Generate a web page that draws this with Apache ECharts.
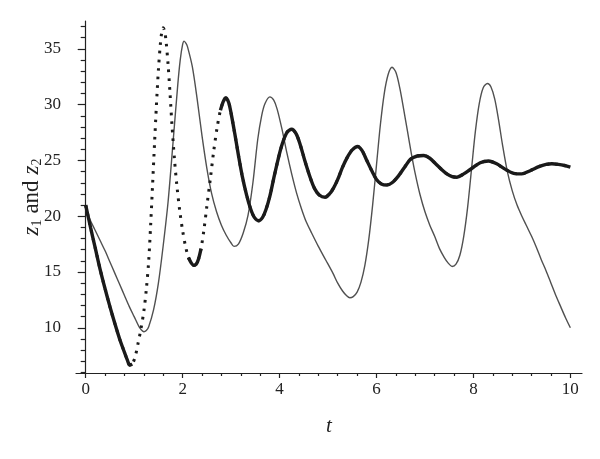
<!DOCTYPE html>
<html><head><meta charset="utf-8">
<script src="https://cdn.jsdelivr.net/npm/echarts@6/dist/echarts.min.js"></script>
<style>html,body{margin:0;padding:0;background:#fff}#c{width:600px;height:459px}</style>
</head><body><div id="c"></div>
<script>
// thick curve z1 (time, value)
const z1T = [0, 0.1, 0.2, 0.3, 0.4, 0.5, 0.6, 0.7, 0.8, 0.86, 0.91, 0.96, 1.02, 1.08, 1.14, 1.2, 1.25, 1.30, 1.34, 1.38, 1.42, 1.46, 1.50, 1.54, 1.57, 1.60, 1.63, 1.66, 1.70, 1.74, 1.78, 1.83, 1.88, 1.94, 2.00, 2.06, 2.12, 2.18, 2.23, 2.28, 2.33, 2.38, 2.44, 2.50, 2.57, 2.64, 2.71, 2.78, 2.84, 2.89, 2.95, 3.01, 3.08, 3.15, 3.23, 3.32, 3.40, 3.48, 3.57, 3.65, 3.72, 3.80, 3.88, 3.97, 4.05, 4.15, 4.25, 4.34, 4.42, 4.52, 4.63, 4.72, 4.82, 4.94, 5.03, 5.11, 5.20, 5.30, 5.40, 5.50, 5.61, 5.70, 5.80, 5.90, 6.00, 6.10, 6.21, 6.32, 6.45, 6.58, 6.70, 6.84, 6.97, 7.10, 7.22, 7.34, 7.45, 7.56, 7.66, 7.80, 7.97, 8.14, 8.31, 8.48, 8.66, 8.83, 9.00, 9.18, 9.35, 9.50, 9.62, 9.75, 9.88, 10.0];
const z1V = [21.0, 19.0, 17.1, 15.2, 13.5, 11.9, 10.4, 9.0, 7.8, 7.1, 6.65, 6.75, 7.4, 8.6, 9.9, 11.5, 13.4, 16.0, 19.2, 22.8, 26.5, 30.0, 33.1, 35.4, 36.5, 36.9, 36.6, 35.6, 33.6, 31.0, 28.2, 25.2, 22.8, 20.5, 18.7, 17.3, 16.3, 15.8, 15.6, 15.7, 16.2, 17.1, 18.8, 20.9, 23.3, 25.8, 27.9, 29.5, 30.3, 30.6, 30.2, 29.0, 27.3, 25.5, 23.6, 21.9, 20.7, 19.9, 19.6, 19.9, 20.6, 21.8, 23.4, 25.1, 26.4, 27.5, 27.8, 27.4, 26.5, 25.0, 23.5, 22.5, 21.9, 21.7, 22.0, 22.5, 23.3, 24.4, 25.3, 25.95, 26.25, 25.9, 25.0, 24.1, 23.3, 22.9, 22.8, 23.0, 23.6, 24.4, 25.1, 25.4, 25.45, 25.2, 24.7, 24.2, 23.8, 23.55, 23.5, 23.8, 24.3, 24.8, 24.95, 24.7, 24.2, 23.85, 23.8, 24.1, 24.45, 24.65, 24.7, 24.65, 24.55, 24.4];
// thin curve z2
const z2T = [0, 0.1, 0.2, 0.3, 0.4, 0.5, 0.6, 0.7, 0.8, 0.9, 1.0, 1.1, 1.15, 1.2, 1.25, 1.3, 1.4, 1.5, 1.6, 1.7, 1.8, 1.9, 1.95, 2.0, 2.03, 2.07, 2.1, 2.2, 2.3, 2.4, 2.5, 2.6, 2.7, 2.8, 2.9, 3.0, 3.06, 3.15, 3.25, 3.35, 3.45, 3.55, 3.63, 3.70, 3.80, 3.88, 3.95, 4.05, 4.15, 4.25, 4.35, 4.45, 4.55, 4.65, 4.8, 4.95, 5.1, 5.2, 5.3, 5.38, 5.45, 5.52, 5.6, 5.68, 5.76, 5.84, 5.92, 6.0, 6.08, 6.16, 6.24, 6.32, 6.4, 6.48, 6.56, 6.64, 6.72, 6.8, 6.9, 7.0, 7.1, 7.2, 7.3, 7.4, 7.48, 7.56, 7.64, 7.72, 7.8, 7.88, 7.96, 8.04, 8.12, 8.2, 8.29, 8.36, 8.44, 8.52, 8.6, 8.7, 8.8, 8.9, 9.0, 9.1, 9.2, 9.3, 9.4, 9.5, 9.6, 9.7, 9.8, 9.9, 10.0];
const z2V = [20.6, 19.6, 18.7, 17.8, 16.9, 15.9, 14.9, 13.9, 12.9, 11.9, 11.0, 10.1, 9.8, 9.65, 9.75, 10.1, 11.6, 14.0, 17.4, 21.3, 26.5, 31.8, 34.0, 35.4, 35.7, 35.5, 35.2, 33.4, 30.5, 27.2, 24.3, 22.0, 20.4, 19.2, 18.3, 17.6, 17.3, 17.5, 18.5, 20.1, 23.0, 26.9, 29.0, 30.1, 30.7, 30.4, 29.6, 27.8, 25.7, 23.8, 22.1, 20.7, 19.5, 18.6, 17.3, 16.1, 14.9, 14.0, 13.3, 12.9, 12.7, 12.8, 13.2, 14.1, 15.6, 17.9, 21.0, 24.6, 28.2, 31.0, 32.7, 33.35, 32.9, 31.5, 29.6, 27.6, 25.6, 23.8, 21.9, 20.4, 19.2, 18.2, 17.1, 16.3, 15.8, 15.5, 15.7, 16.5, 18.2, 20.8, 24.2, 27.6, 30.1, 31.5, 31.9, 31.6, 30.5, 28.6, 26.4, 24.0, 22.3, 21.0, 20.0, 19.1, 18.2, 17.2, 16.1, 15.1, 14.0, 12.9, 11.9, 10.9, 10.0];
// ticks
const xMajorTicks = [0, 2, 4, 6, 8, 10];
const xMinorTicks = [0.4, 0.8, 1.2, 1.6, 2.4, 2.8, 3.2, 3.6, 4.4, 4.8, 5.2, 5.6, 6.4, 6.8, 7.2, 7.6, 8.4, 8.8, 9.2, 9.6];
const yMajorTicks = [10, 15, 20, 25, 30, 35];
const yMinorTicks = [6, 7, 8, 9, 11, 12, 13, 14, 16, 17, 18, 19, 21, 22, 23, 24, 26, 27, 28, 29, 31, 32, 33, 34, 36, 37];

// styling: where the sampled thick curve shows as separate dots
const dottedSpans = [[0.97, 2.10], [2.40, 2.75]];

const pair = (T, V) => T.map((t, i) => [t, V[i]]);
const z1 = pair(z1T, z1V);
const z2 = pair(z2T, z2V);
const inSpan = t => dottedSpans.some(([a, b]) => t > a && t < b);
const z1Solid = z1.map(p => inSpan(p[0]) ? [p[0], '-'] : p);

const SERIF = 'Liberation Serif, Times New Roman, Times, serif';
const INK = '#222';

const chart = echarts.init(document.getElementById('c'), null, {renderer: 'canvas'});
chart.setOption({
  animation: false,
  backgroundColor: '#fff',
  grid: {left: 76, right: 18, top: 21, bottom: 86},
  xAxis: [{
    type: 'value', min: -0.2, max: 10.24,
    axisLine: {onZero: false, lineStyle: {color: INK, width: 1.2}},
    axisTick: {customValues: xMajorTicks, length: 5, lineStyle: {color: INK, width: 1.2}},
    axisLabel: {customValues: xMajorTicks, fontFamily: SERIF, fontSize: 17, color: INK, margin: 8},
    splitLine: {show: false},
    name: 't', nameLocation: 'middle', nameGap: 43, nameMoveOverlap: false,
    nameTextStyle: {fontFamily: SERIF, fontStyle: 'italic', fontSize: 21, color: INK}
  }, {
    type: 'value', min: -0.2, max: 10.24, position: 'bottom',
    axisLine: {show: false, onZero: false},
    axisTick: {customValues: xMinorTicks, length: 3, lineStyle: {color: INK, width: 1.2}},
    axisLabel: {show: false}, splitLine: {show: false}
  }],
  yAxis: [{
    type: 'value', min: 5.95, max: 37.5,
    axisLine: {onZero: true, onZeroAxisIndex: 0, lineStyle: {color: INK, width: 1.2}},
    axisTick: {customValues: yMajorTicks, length: 8, lineStyle: {color: INK, width: 1.2}},
    axisLabel: {customValues: yMajorTicks, fontFamily: SERIF, fontSize: 17, color: INK, margin: 15},
    splitLine: {show: false},
    name: '{i|z}{s|1}{n|and}{i|z}{s|2}', nameLocation: 'middle', nameRotate: 90, nameGap: 32,
    nameMoveOverlap: false,
    nameTextStyle: {
      color: INK,
      rich: {
        i: {fontFamily: SERIF, fontStyle: 'italic', fontSize: 23, color: INK},
        n: {fontFamily: SERIF, fontSize: 23, color: INK, padding: [0, 6, 0, 6]},
        s: {fontFamily: SERIF, fontSize: 14, color: INK, padding: [11, 0, 0, 0]}
      }
    }
  }, {
    type: 'value', min: 5.95, max: 37.5, position: 'left',
    axisLine: {show: false, onZero: true, onZeroAxisIndex: 0},
    axisTick: {customValues: yMinorTicks, length: 5, lineStyle: {color: INK, width: 1.2}},
    axisLabel: {show: false}, splitLine: {show: false}
  }],
  series: [{
    name: 'z2', type: 'line', data: z2, showSymbol: false, smooth: 0.3,
    lineStyle: {color: '#505050', width: 1.4}, z: 2
  }, {
    name: 'z1 samples', type: 'line', data: z1, showSymbol: false, smooth: 0.3,
    lineStyle: {color: '#1a1a1a', width: 3, type: [2.6, 6]}, z: 3
  }, {
    name: 'z1', type: 'line', data: z1Solid, showSymbol: false, smooth: 0.3,
    connectNulls: false,
    lineStyle: {color: '#1a1a1a', width: 3.4}, z: 4
  }]
});
</script>
</body></html>
